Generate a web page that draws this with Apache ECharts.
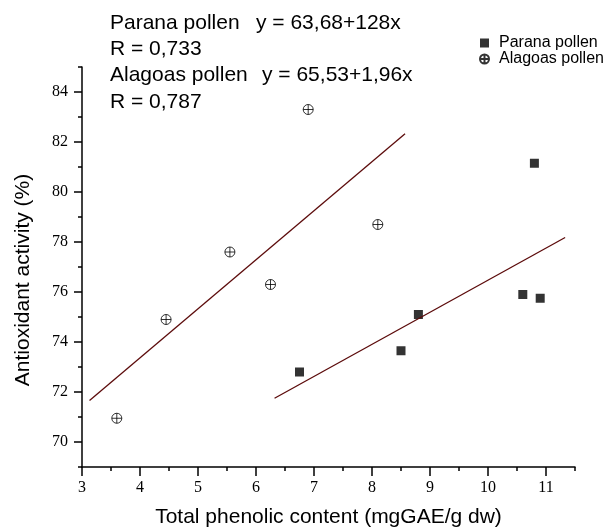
<!DOCTYPE html>
<html>
<head>
<meta charset="utf-8">
<script src="https://cdn.jsdelivr.net/npm/echarts@6/dist/echarts.min.js"></script>
<style>
  html, body { margin: 0; padding: 0; background: #fff; }
  #chart { width: 616px; height: 530px; }
</style>
</head>
<body>
<div id="chart"></div>
<script>
// Parana pollen
const paranaX = [6.75, 8.5, 8.8, 10.6, 10.9, 10.8];
const paranaY = [72.8, 73.65, 75.1, 75.9, 75.75, 81.15];
// Alagoas pollen
const alagoasX = [3.6, 4.45, 5.55, 6.25, 6.9, 8.1];
const alagoasY = [70.95, 74.9, 77.6, 76.3, 83.3, 78.7];
// fit line end points
const paranaFitX = [6.32, 11.33];
const paranaFitY = [71.75, 78.18];
const alagoasFitX = [3.13, 8.57];
const alagoasFitY = [71.66, 82.33];

const xMajor = [3, 4, 5, 6, 7, 8, 9, 10, 11];
const xMinor = [3.5, 4.5, 5.5, 6.5, 7.5, 8.5, 9.5, 10.5, 11.5];
const yMajor = [70, 72, 74, 76, 78, 80, 82, 84];
const yMinor = [69, 71, 73, 75, 77, 79, 81, 83, 85];

const notes = [
  ['Parana pollen', 'y = 63,68+128x'],
  ['R = 0,733', ''],
  ['Alagoas pollen', 'y = 65,53+1,96x'],
  ['R = 0,787', '']
];

const circlePlus = 'path://M10,0A10,10,0,1,1,10,20A10,10,0,1,1,10,0ZM0,10L20,10M10,0L10,20';
const sans = 'Liberation Sans';
const serif = 'Liberation Serif';

const zip = (xs, ys) => xs.map((x, i) => [x, ys[i]]);

const chart = echarts.init(document.getElementById('chart'));

const axisBase = {
  type: 'value',
  splitLine: { show: false }
};

let graphics = [];
notes.forEach((row, i) => {
  const y = 23 + i * 26.3;
  graphics.push({
    type: 'text', x: 110, y: y,
    style: { text: row[0], font: '21px ' + sans, fill: '#000', verticalAlign: 'middle' }
  });
  if (row[1]) {
    graphics.push({
      type: 'text', x: i == 0 ? 256 : 262, y: y,
      style: { text: row[1], font: '21px ' + sans, fill: '#000', verticalAlign: 'middle' }
    });
  }
});
// y axis title
graphics.push({
  type: 'text', x: 23, y: 280, rotation: Math.PI / 2,
  style: { text: 'Antioxidant activity (%)', font: '21px ' + sans, fill: '#000', align: 'center', verticalAlign: 'middle' }
});

const option = {
  animation: false,
  backgroundColor: '#fff',
  grid: { left: 82, right: 41, top: 67, bottom: 63, outerBoundsMode: 'none' },
  legend: {
    orient: 'vertical',
    left: 474, top: 30,
    itemWidth: 9, itemHeight: 9, itemGap: 0,
    textStyle: { fontFamily: sans, fontSize: 16, lineHeight: 15, color: '#000', padding: [0, 0, 0, 5] },
    data: [
      { name: 'Parana pollen', icon: 'rect' },
      { name: 'Alagoas pollen', icon: circlePlus }
    ]
  },
  graphic: graphics,
  xAxis: [
    Object.assign({}, axisBase, {
      min: 3, max: 11.5,
      axisLine: { lineStyle: { color: '#000', width: 1.5 } },
      axisTick: { customValues: xMajor, length: 9, lineStyle: { color: '#000', width: 1.5 } },
      axisLabel: { customValues: xMajor, margin: 13, fontFamily: serif, fontSize: 16, color: '#000' },
      name: 'Total phenolic content (mgGAE/g dw)',
      nameLocation: 'middle', nameGap: 40,
      nameTextStyle: { fontFamily: sans, fontSize: 21, color: '#000' }
    }),
    Object.assign({}, axisBase, {
      min: 3, max: 11.5, position: 'bottom',
      axisLine: { show: false },
      axisTick: { customValues: xMinor, length: 4, lineStyle: { color: '#000', width: 1.5 } },
      axisLabel: { show: false }
    })
  ],
  yAxis: [
    Object.assign({}, axisBase, {
      min: 69, max: 85,
      axisLine: { show: true, lineStyle: { color: '#000', width: 1.5 } },
      axisTick: { show: true, customValues: yMajor, length: 8, lineStyle: { color: '#000', width: 1.5 } },
      axisLabel: { customValues: yMajor, margin: 14, fontFamily: serif, fontSize: 16, color: '#000' }
    }),
    Object.assign({}, axisBase, {
      min: 69, max: 85, position: 'left',
      axisLine: { show: false },
      axisTick: { show: true, customValues: yMinor, length: 4, lineStyle: { color: '#000', width: 1.5 } },
      axisLabel: { show: false }
    })
  ],
  series: [
    {
      name: 'Parana pollen', type: 'scatter',
      symbol: 'rect', symbolSize: 9,
      itemStyle: { color: '#000' },
      data: zip(paranaX, paranaY)
    },
    {
      name: 'Alagoas pollen', type: 'scatter',
      symbol: circlePlus, symbolSize: 10,
      itemStyle: { color: 'transparent', borderColor: '#000', borderWidth: 1 },
      data: zip(alagoasX, alagoasY)
    },
    {
      name: 'Parana fit', type: 'line', showSymbol: false, silent: true,
      lineStyle: { color: '#5c0b0b', width: 1.3 },
      data: zip(paranaFitX, paranaFitY)
    },
    {
      name: 'Alagoas fit', type: 'line', showSymbol: false, silent: true,
      lineStyle: { color: '#5c0b0b', width: 1.3 },
      data: zip(alagoasFitX, alagoasFitY)
    }
  ]
};

chart.setOption(option);
</script>
</body>
</html>
